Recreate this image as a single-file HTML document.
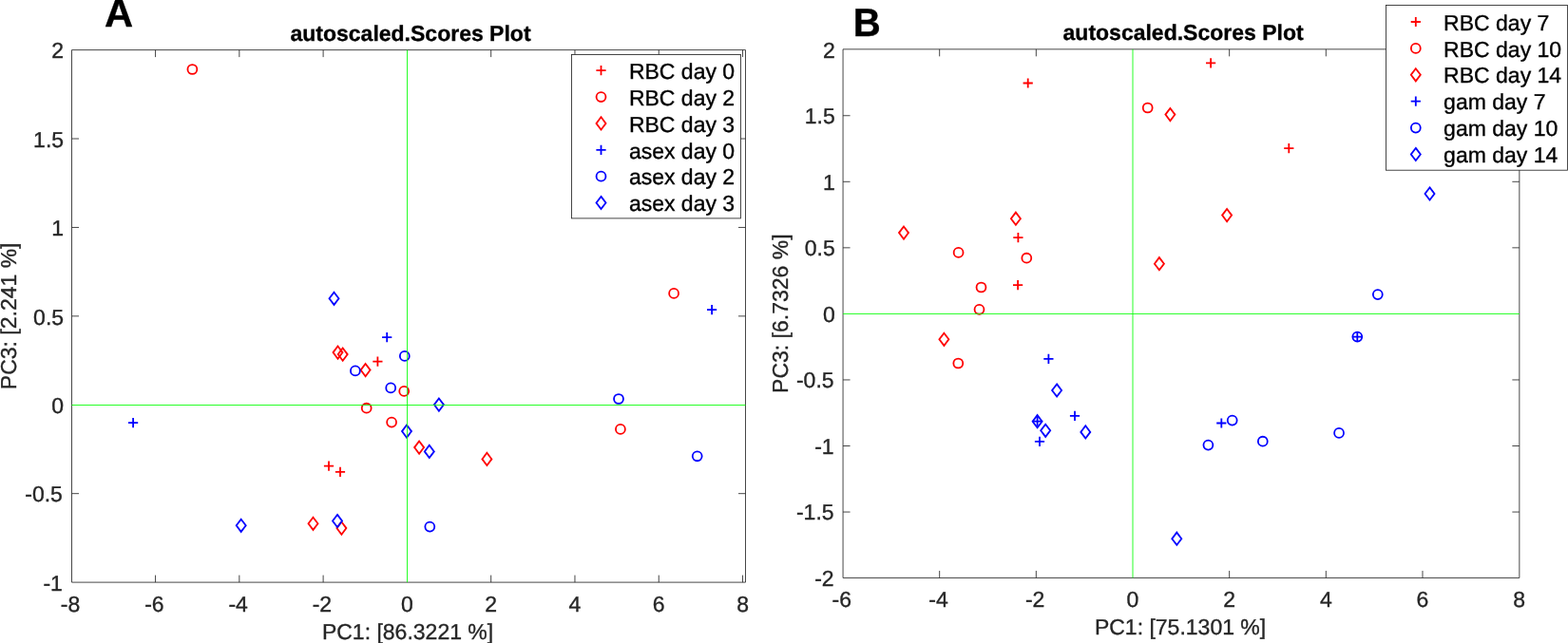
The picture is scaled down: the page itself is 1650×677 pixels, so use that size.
<!DOCTYPE html>
<html><head><meta charset="utf-8"><title>autoscaled.Scores Plot</title>
<style>
html,body{margin:0;padding:0;background:#fff;}
body{width:1650px;height:677px;overflow:hidden;}
svg{display:block;}
text{font-family:"Liberation Sans", sans-serif;stroke:currentColor;stroke-width:0.35px;text-rendering:geometricPrecision;}
</style></head><body>
<svg width="1650" height="677" viewBox="0 0 1650 677">
<rect width="1650" height="677" fill="#fff"/>
<g id="panelA">
<g fill="none" stroke="#ff0000" stroke-width="1.8" stroke-linejoin="miter">
<path d="M392.3 380.6H402.5M397.4 375.5V385.7"/>
<path d="M340.9 490.6H351.1M346 485.5V495.7"/>
<path d="M352.9 496.9H363.1M358 491.8V502"/>
</g>
<g fill="none" stroke="#ff0000" stroke-width="1.8" stroke-linejoin="miter">
<circle cx="202.4" cy="73" r="4.95"/>
<circle cx="709.1" cy="308.9" r="4.95"/>
<circle cx="425.2" cy="411.9" r="4.95"/>
<circle cx="385.7" cy="429.7" r="4.95"/>
<circle cx="412.1" cy="444.6" r="4.95"/>
<circle cx="652.9" cy="451.9" r="4.95"/>
</g>
<g fill="none" stroke="#ff0000" stroke-width="1.8" stroke-linejoin="miter">
<path d="M355.5 364.5L360.5 371.1L355.5 377.7L350.5 371.1Z"/>
<path d="M360.7 366.5L365.7 373.1L360.7 379.7L355.7 373.1Z"/>
<path d="M384.6 383L389.6 389.6L384.6 396.2L379.6 389.6Z"/>
<path d="M441.1 464.5L446.1 471.1L441.1 477.7L436.1 471.1Z"/>
<path d="M512.4 476.8L517.4 483.4L512.4 490L507.4 483.4Z"/>
<path d="M329.5 544.7L334.5 551.3L329.5 557.9L324.5 551.3Z"/>
<path d="M359.4 549.5L364.4 556.1L359.4 562.7L354.4 556.1Z"/>
</g>
<g fill="none" stroke="#0000ff" stroke-width="1.8" stroke-linejoin="miter">
<path d="M744 326.2H754.2M749.1 321.1V331.3"/>
<path d="M402.1 355.2H412.3M407.2 350.1V360.3"/>
<path d="M135 445.1H145.2M140.1 440V450.2"/>
</g>
<g fill="none" stroke="#0000ff" stroke-width="1.8" stroke-linejoin="miter">
<circle cx="425.8" cy="374.9" r="4.95"/>
<circle cx="373.9" cy="390.4" r="4.95"/>
<circle cx="411.2" cy="408.4" r="4.95"/>
<circle cx="651" cy="420" r="4.95"/>
<circle cx="452.3" cy="554.6" r="4.95"/>
<circle cx="733.7" cy="480.3" r="4.95"/>
</g>
<g fill="none" stroke="#0000ff" stroke-width="1.8" stroke-linejoin="miter">
<path d="M351.5 307.7L356.5 314.3L351.5 320.9L346.5 314.3Z"/>
<path d="M461.9 419.5L466.9 426.1L461.9 432.7L456.9 426.1Z"/>
<path d="M428 447.5L433 454.1L428 460.7L423 454.1Z"/>
<path d="M451.8 468.8L456.8 475.4L451.8 482L446.8 475.4Z"/>
<path d="M253.7 546.7L258.7 553.3L253.7 559.9L248.7 553.3Z"/>
<path d="M355 541.9L360 548.5L355 555.1L350 548.5Z"/>
</g>
<path d="M75.5 52.6H784.5V613.1H75.5ZM163.56 613.1V605.6M163.56 52.6V60.1M251.84 613.1V605.6M251.84 52.6V60.1M340.12 613.1V605.6M340.12 52.6V60.1M516.68 613.1V605.6M516.68 52.6V60.1M604.96 613.1V605.6M604.96 52.6V60.1M693.24 613.1V605.6M693.24 52.6V60.1M781.52 613.1V605.6M781.52 52.6V60.1M75.5 519.68H83M784.5 519.68H777M75.5 332.85H83M784.5 332.85H777M75.5 239.44H83M784.5 239.44H777M75.5 146.02H83M784.5 146.02H777" fill="none" stroke="#262626" stroke-width="0.85"/>
<g stroke="#00ff00" stroke-width="0.85" fill="none"><path d="M428.5 52.6V613.1M75.5 426.5H784.5"/></g>
<g font-size="23" fill="#262626" color="#262626">
<text transform="translate(74.08 643.6)" text-anchor="middle">-8</text>
<text transform="translate(162.36 643.6)" text-anchor="middle">-6</text>
<text transform="translate(250.64 643.6)" text-anchor="middle">-4</text>
<text transform="translate(338.92 643.6)" text-anchor="middle">-2</text>
<text transform="translate(428.4 643.6)" text-anchor="middle">0</text>
<text transform="translate(516.68 643.6)" text-anchor="middle">2</text>
<text transform="translate(604.96 643.6)" text-anchor="middle">4</text>
<text transform="translate(693.24 643.6)" text-anchor="middle">6</text>
<text transform="translate(781.52 643.6)" text-anchor="middle">8</text>
<text transform="translate(65.9 621.8)" text-anchor="end">-1</text>
<text transform="translate(65.9 528.38)" text-anchor="end">-0.5</text>
<text transform="translate(67.1 434.97)" text-anchor="end">0</text>
<text transform="translate(67.1 341.55)" text-anchor="end">0.5</text>
<text transform="translate(67.1 248.14)" text-anchor="end">1</text>
<text transform="translate(67.1 154.72)" text-anchor="end">1.5</text>
<text transform="translate(67.1 61.31)" text-anchor="end">2</text>
<text transform="translate(429.05 673.1)" text-anchor="middle">PC1: [86.3221 %]</text>
<text transform="translate(16.8 332.85) rotate(-90)" text-anchor="middle">PC3: [2.241 %]</text>
</g>
<text transform="translate(432 42.8)" text-anchor="middle" font-size="23" font-weight="bold" fill="#000" color="#000">autoscaled.Scores Plot</text>
<text transform="translate(110 28.4) scale(1.0 1)" x="0" y="0" font-size="41.7" font-weight="bold" fill="#000" color="#000">A</text>
<rect x="601.5" y="57.5" width="177.9" height="172.4" fill="#fff" stroke="#262626" stroke-width="0.85"/>
<g fill="none" stroke="#ff0000" stroke-width="1.8"><path d="M627.4 74.2H637.6M632.5 69.1V79.3"/></g>
<text transform="translate(661.9 83)" font-size="23" fill="#000" color="#000">RBC day 0</text>
<g fill="none" stroke="#ff0000" stroke-width="1.8"><circle cx="632.5" cy="102.06" r="4.95"/></g>
<text transform="translate(661.9 111)" font-size="23" fill="#000" color="#000">RBC day 2</text>
<g fill="none" stroke="#ff0000" stroke-width="1.8"><path d="M632.5 123.32L637.5 129.92L632.5 136.52L627.5 129.92Z"/></g>
<text transform="translate(661.9 139)" font-size="23" fill="#000" color="#000">RBC day 3</text>
<g fill="none" stroke="#0000ff" stroke-width="1.8"><path d="M627.4 157.78H637.6M632.5 152.68V162.88"/></g>
<text transform="translate(661.9 167)" font-size="23" fill="#000" color="#000">asex day 0</text>
<g fill="none" stroke="#0000ff" stroke-width="1.8"><circle cx="632.5" cy="185.64" r="4.95"/></g>
<text transform="translate(661.9 194)" font-size="23" fill="#000" color="#000">asex day 2</text>
<g fill="none" stroke="#0000ff" stroke-width="1.8"><path d="M632.5 206.9L637.5 213.5L632.5 220.1L627.5 213.5Z"/></g>
<text transform="translate(661.9 222)" font-size="23" fill="#000" color="#000">asex day 3</text>
</g>
<g id="panelB">
<g fill="none" stroke="#ff0000" stroke-width="1.8" stroke-linejoin="miter">
<path d="M1076.6 87.5H1086.8M1081.7 82.4V92.6"/>
<path d="M1269 66.3H1279.2M1274.1 61.2V71.4"/>
<path d="M1351.2 156.1H1361.4M1356.3 151V161.2"/>
<path d="M1066.3 250.1H1076.5M1071.4 245V255.2"/>
<path d="M1066 300.2H1076.2M1071.1 295.1V305.3"/>
</g>
<g fill="none" stroke="#ff0000" stroke-width="1.8" stroke-linejoin="miter">
<circle cx="1207.7" cy="113.5" r="4.95"/>
<circle cx="1008.6" cy="265.9" r="4.95"/>
<circle cx="1080.3" cy="271.7" r="4.95"/>
<circle cx="1032.5" cy="302.5" r="4.95"/>
<circle cx="1030.5" cy="325.8" r="4.95"/>
<circle cx="1008.3" cy="382.5" r="4.95"/>
</g>
<g fill="none" stroke="#ff0000" stroke-width="1.8" stroke-linejoin="miter">
<path d="M1231.4 114L1236.4 120.6L1231.4 127.2L1226.4 120.6Z"/>
<path d="M1068.9 223.6L1073.9 230.2L1068.9 236.8L1063.9 230.2Z"/>
<path d="M951 238.5L956 245.1L951 251.7L946 245.1Z"/>
<path d="M1291.1 220L1296.1 226.6L1291.1 233.2L1286.1 226.6Z"/>
<path d="M1219.9 271.1L1224.9 277.7L1219.9 284.3L1214.9 277.7Z"/>
<path d="M993.4 350.7L998.4 357.3L993.4 363.9L988.4 357.3Z"/>
</g>
<g fill="none" stroke="#0000ff" stroke-width="1.8" stroke-linejoin="miter">
<path d="M1098.3 377.9H1108.5M1103.4 372.8V383"/>
<path d="M1086.5 443.7H1096.7M1091.6 438.6V448.8"/>
<path d="M1125.9 437.9H1136.1M1131 432.8V443"/>
<path d="M1088.9 464.9H1099.1M1094 459.8V470"/>
<path d="M1280.2 445.5H1290.4M1285.3 440.4V450.6"/>
<path d="M1423.2 354.6H1433.4M1428.3 349.5V359.7"/>
</g>
<g fill="none" stroke="#0000ff" stroke-width="1.8" stroke-linejoin="miter">
<circle cx="1449.8" cy="310.1" r="4.95"/>
<circle cx="1428.3" cy="354.6" r="4.95"/>
<circle cx="1296.7" cy="442.6" r="4.95"/>
<circle cx="1271.4" cy="468.6" r="4.95"/>
<circle cx="1328.8" cy="464.7" r="4.95"/>
<circle cx="1409.05" cy="455.9" r="4.95"/>
</g>
<g fill="none" stroke="#0000ff" stroke-width="1.8" stroke-linejoin="miter">
<path d="M1504.5 197.4L1509.5 204L1504.5 210.6L1499.5 204Z"/>
<path d="M1112.1 404.4L1117.1 411L1112.1 417.6L1107.1 411Z"/>
<path d="M1091.6 437.1L1096.6 443.7L1091.6 450.3L1086.6 443.7Z"/>
<path d="M1100.2 446.7L1105.2 453.3L1100.2 459.9L1095.2 453.3Z"/>
<path d="M1142.3 448.3L1147.3 454.9L1142.3 461.5L1137.3 454.9Z"/>
<path d="M1238.3 560.6L1243.3 567.2L1238.3 573.8L1233.3 567.2Z"/>
</g>
<path d="M887.07 51.85H1598.85V608.45H887.07ZM988.68 608.45V600.95M988.68 51.85V59.35M1090.34 608.45V600.95M1090.34 51.85V59.35M1293.66 608.45V600.95M1293.66 51.85V59.35M1395.32 608.45V600.95M1395.32 51.85V59.35M1496.98 608.45V600.95M1496.98 51.85V59.35M887.07 539.05H894.57M1598.85 539.05H1591.35M887.07 469.5H894.57M1598.85 469.5H1591.35M887.07 399.95H894.57M1598.85 399.95H1591.35M887.07 260.85H894.57M1598.85 260.85H1591.35M887.07 191.3H894.57M1598.85 191.3H1591.35M887.07 121.75H894.57M1598.85 121.75H1591.35" fill="none" stroke="#262626" stroke-width="0.85"/>
<g stroke="#00ff00" stroke-width="0.85" fill="none"><path d="M1192 51.85V608.45M887.07 330.45H1598.85"/></g>
<g font-size="23" fill="#262626" color="#262626">
<text transform="translate(885.82 639.2)" text-anchor="middle">-6</text>
<text transform="translate(987.48 639.2)" text-anchor="middle">-4</text>
<text transform="translate(1089.14 639.2)" text-anchor="middle">-2</text>
<text transform="translate(1192 639.2)" text-anchor="middle">0</text>
<text transform="translate(1293.66 639.2)" text-anchor="middle">2</text>
<text transform="translate(1395.32 639.2)" text-anchor="middle">4</text>
<text transform="translate(1496.98 639.2)" text-anchor="middle">6</text>
<text transform="translate(1598.64 639.2)" text-anchor="middle">8</text>
<text transform="translate(877.6 617)" text-anchor="end">-2</text>
<text transform="translate(877.6 547.45)" text-anchor="end">-1.5</text>
<text transform="translate(877.6 477.9)" text-anchor="end">-1</text>
<text transform="translate(877.6 408.35)" text-anchor="end">-0.5</text>
<text transform="translate(878.8 338.8)" text-anchor="end">0</text>
<text transform="translate(878.8 269.25)" text-anchor="end">0.5</text>
<text transform="translate(878.8 199.7)" text-anchor="end">1</text>
<text transform="translate(878.8 130.15)" text-anchor="end">1.5</text>
<text transform="translate(878.8 60.6)" text-anchor="end">2</text>
<text transform="translate(1242.05 668.2)" text-anchor="middle">PC1: [75.1301 %]</text>
<text transform="translate(828.6 330.15) rotate(-90)" text-anchor="middle">PC3: [6.7326 %]</text>
</g>
<text transform="translate(1245.1 42.4)" text-anchor="middle" font-size="23" font-weight="bold" fill="#000" color="#000">autoscaled.Scores Plot</text>
<text transform="translate(897.7 38.1) scale(0.963 1)" x="0" y="0" font-size="41.7" font-weight="bold" fill="#000" color="#000">B</text>
<rect x="1458.5" y="5.5" width="190.9" height="173.7" fill="#fff" stroke="#262626" stroke-width="0.85"/>
<g fill="none" stroke="#ff0000" stroke-width="1.8"><path d="M1484.7 23H1494.9M1489.8 17.9V28.1"/></g>
<text transform="translate(1519.1 32)" font-size="23" fill="#000" color="#000">RBC day 7</text>
<g fill="none" stroke="#ff0000" stroke-width="1.8"><circle cx="1489.8" cy="50.9" r="4.95"/></g>
<text transform="translate(1519.1 60)" font-size="23" fill="#000" color="#000">RBC day 10</text>
<g fill="none" stroke="#ff0000" stroke-width="1.8"><path d="M1489.8 72.2L1494.8 78.8L1489.8 85.4L1484.8 78.8Z"/></g>
<text transform="translate(1519.1 87)" font-size="23" fill="#000" color="#000">RBC day 14</text>
<g fill="none" stroke="#0000ff" stroke-width="1.8"><path d="M1484.7 106.7H1494.9M1489.8 101.6V111.8"/></g>
<text transform="translate(1519.1 115)" font-size="23" fill="#000" color="#000">gam day 7</text>
<g fill="none" stroke="#0000ff" stroke-width="1.8"><circle cx="1489.8" cy="134.6" r="4.95"/></g>
<text transform="translate(1519.1 143)" font-size="23" fill="#000" color="#000">gam day 10</text>
<g fill="none" stroke="#0000ff" stroke-width="1.8"><path d="M1489.8 155.9L1494.8 162.5L1489.8 169.1L1484.8 162.5Z"/></g>
<text transform="translate(1519.1 171)" font-size="23" fill="#000" color="#000">gam day 14</text>
</g>
</svg>
</body></html>
